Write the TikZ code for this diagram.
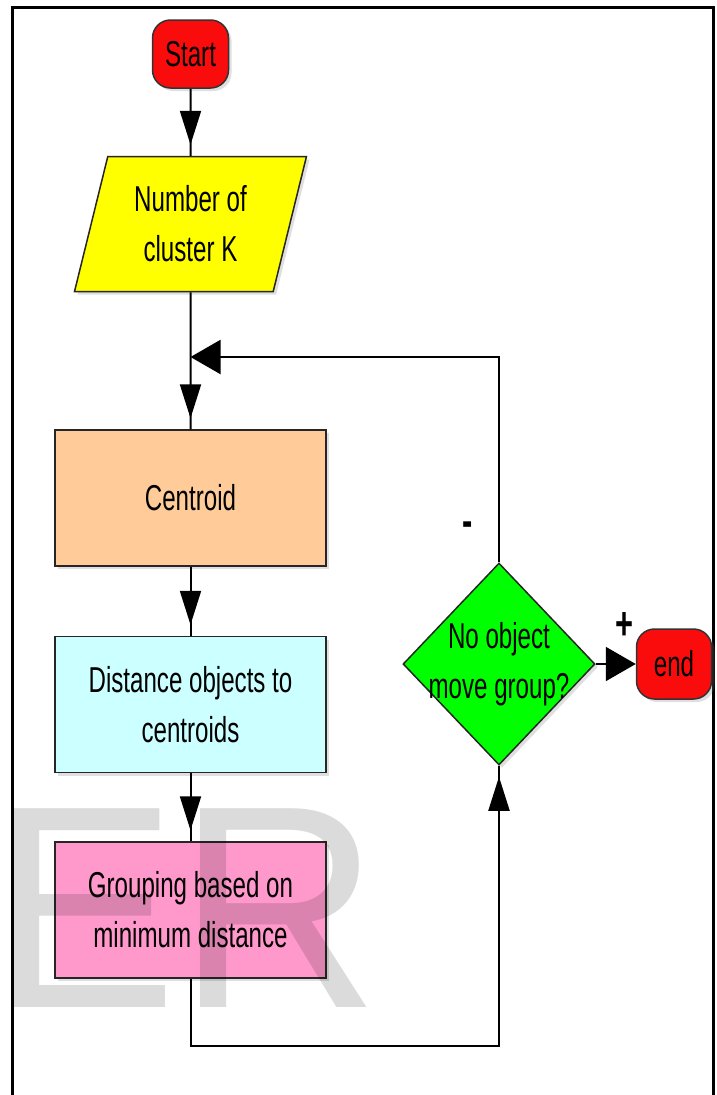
\documentclass[tikz,border=0pt]{standalone}
\usepackage{fontspec}
\setmainfont[FakeStretch=0.67]{Liberation Sans}
\newfontfamily\wmfont[FakeStretch=0.97]{Liberation Sans}
\usepackage{xcolor}
\usepackage{tikz}
\usetikzlibrary{shapes,arrows.meta,positioning,calc,decorations.markings,shadows}
\definecolor{termred}{RGB}{250,12,12}
\definecolor{ioyellow}{RGB}{255,255,0}
\definecolor{peach}{RGB}{255,204,153}
\definecolor{palecyan}{RGB}{204,255,255}
\definecolor{pinkbox}{RGB}{255,153,204}
\definecolor{decgreen}{RGB}{0,255,0}
\tikzstyle{txt} = [font=\fontsize{36}{50}\selectfont, align=center, inner sep=0pt]
\tikzstyle{sign} = [font=\fontsize{46}{46}\selectfont\bfseries, inner sep=0pt]
\tikzstyle{shade} = [drop shadow={shadow xshift=3pt, shadow yshift=-3pt, opacity=0.25}]
\tikzstyle{terminal} = [draw=black!80, line width=1.5pt, rectangle, rounded corners=18pt,
    fill=termred, txt, shade]
\tikzstyle{io} = [draw=black!85, line width=1.5pt, trapezium, trapezium left angle=73.5,
    trapezium right angle=106.5, trapezium stretches=true, minimum width=232pt,
    minimum height=135pt, fill=ioyellow, txt, shade]
\tikzstyle{block} = [draw=black!85, line width=1.5pt, rectangle, minimum width=271pt,
    minimum height=136pt, txt, shade]
\tikzstyle{decision} = [draw=black!85, line width=1.5pt, diamond, minimum width=192pt,
    minimum height=202pt, inner sep=0pt, fill=decgreen, shade]
\tikzstyle{coord} = [coordinate]
\tikzstyle{connector} = [draw, line width=2pt]
\tikzstyle{tipv} = [postaction={decorate}, decoration={markings,
    mark=at position -11pt with {\arrow{Triangle[length=34pt,width=21pt]}}}]
\tikzstyle{tiph} = [-{Triangle[length=30pt,width=34pt]}]
\tikzstyle{wm} = [font=\wmfont\fontsize{289}{289}\selectfont, text=black, text opacity=0.14,
    inner sep=0pt, anchor=base west]

\begin{document}
\begin{tikzpicture}[x=1pt,y=-1pt]
	\useasboundingbox (0,0) rectangle (717,1095);
	\fill[white] (0,0) rectangle (717,1095);
	\draw[line width=3pt] (12,1095) -- (12,7) -- (713,7) -- (713,1095);

	\node[terminal, minimum width=76pt, minimum height=68pt] (start) at (190.5,54) {Start};
	\node[io, below=67pt of start] (input) {Number of\\cluster K};
	\node[block, fill=peach, below=137pt of input] (centroid) {Centroid};
	\node[block, fill=palecyan, below=69pt of centroid] (dist) {Distance objects to\\centroids};
	\node[block, fill=pinkbox, below=68pt of dist] (group) {Grouping based on\\minimum distance};
	\node[decision, label={[txt]center:{No object\\move group?}}] (dec) at (499,664) {};
	\node[terminal, minimum width=75pt, minimum height=70pt, right=40pt of dec] (end) {end};
	\node[coord] (join) at (190.5,357) {};
	\node[coord, below=67pt of group] (below group) {};

	\draw[connector, tipv] (start) -- (input);
	\draw[connector, tipv] (input) -- (centroid);
	\draw[connector, tipv] (centroid) -- (dist);
	\draw[connector, tipv] (dist) -- (group);
	\draw[connector, tipv] (group) -- (below group) -| (dec.south);
	\draw[connector, tiph] (dec.north) |- node[sign, pos=0.08, left=25pt] {-} (join);
	\draw[connector, tiph] (dec) -- node[sign, pos=0.72, above=24pt] {+} (end);

	\node[wm] (mark) at (-10,1007) {ER};
\end{tikzpicture}
\end{document}
